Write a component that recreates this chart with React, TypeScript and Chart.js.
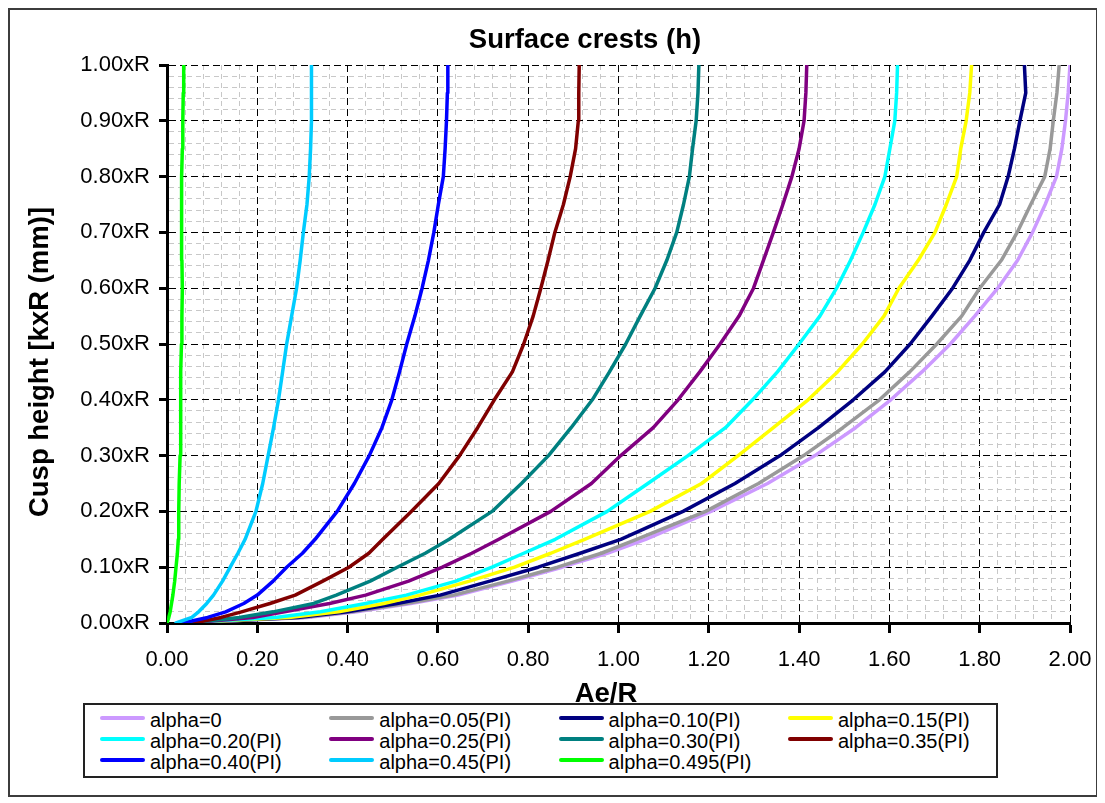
import React, { useEffect, useRef } from 'react';
import { Chart, registerables } from 'chart.js';

Chart.register(...registerables);

const FONT = '"Liberation Sans", Arial, Helvetica, sans-serif';
const CHART_TITLE = 'Surface crests (h)';
const X_TITLE = 'Ae/R';
const Y_TITLE = 'Cusp height [kxR (mm)]';

// Cusp height levels (y, in xR) shared by every series
const HEIGHT_LEVELS = [0, 0.01, 0.02, 0.035, 0.05, 0.075, 0.1, 0.125, 0.15, 0.2, 0.25, 0.3, 0.35, 0.4, 0.45, 0.5, 0.55, 0.6, 0.65, 0.7, 0.75, 0.8, 0.85, 0.9, 0.95, 1.0];

// Ae/R for each series at the levels above
const AE_ALPHA_000 = [0.03, 0.31, 0.42, 0.54, 0.645, 0.765, 0.875, 0.975, 1.06, 1.205, 1.33, 1.435, 1.525, 1.603, 1.672, 1.735, 1.789, 1.840, 1.884, 1.917, 1.945, 1.970, 1.982, 1.990, 1.996, 2.000];
const AE_ALPHA_005 = [0.03, 0.30, 0.41, 0.53, 0.635, 0.755, 0.865, 0.962, 1.04, 1.193, 1.31, 1.41, 1.497, 1.578, 1.645, 1.705, 1.76, 1.80, 1.848, 1.883, 1.913, 1.944, 1.956, 1.963, 1.971, 1.976];
const AE_ALPHA_010 = [0.03, 0.29, 0.40, 0.51, 0.605, 0.715, 0.822, 0.915, 1.005, 1.143, 1.258, 1.358, 1.443, 1.52, 1.59, 1.646, 1.694, 1.74, 1.778, 1.809, 1.844, 1.863, 1.877, 1.889, 1.902, 1.899];
const AE_ALPHA_015 = [0.03, 0.27, 0.38, 0.48, 0.56, 0.67, 0.77, 0.85, 0.925, 1.07, 1.184, 1.265, 1.343, 1.42, 1.485, 1.54, 1.588, 1.621, 1.664, 1.701, 1.726, 1.749, 1.758, 1.770, 1.778, 1.782];
const AE_ALPHA_020 = [0.03, 0.24, 0.34, 0.44, 0.53, 0.64, 0.72, 0.79, 0.86, 0.975, 1.065, 1.154, 1.237, 1.297, 1.352, 1.400, 1.446, 1.483, 1.514, 1.542, 1.568, 1.590, 1.601, 1.612, 1.616, 1.618];
const AE_ALPHA_025 = [0.05, 0.19, 0.26, 0.36, 0.44, 0.535, 0.61, 0.675, 0.735, 0.85, 0.94, 1.005, 1.077, 1.132, 1.18, 1.225, 1.267, 1.299, 1.321, 1.343, 1.364, 1.384, 1.400, 1.411, 1.415, 1.417];
const AE_ALPHA_030 = [0.05, 0.16, 0.235, 0.325, 0.375, 0.45, 0.51, 0.572, 0.625, 0.72, 0.785, 0.845, 0.895, 0.942, 0.98, 1.016, 1.048, 1.081, 1.107, 1.129, 1.144, 1.157, 1.164, 1.172, 1.176, 1.178];
const AE_ALPHA_035 = [0.06, 0.12, 0.165, 0.228, 0.284, 0.345, 0.403, 0.447, 0.478, 0.541, 0.602, 0.648, 0.688, 0.725, 0.765, 0.79, 0.811, 0.828, 0.844, 0.859, 0.878, 0.893, 0.905, 0.911, 0.912, 0.913];
const AE_ALPHA_040 = [0.035, 0.09, 0.13, 0.17, 0.2, 0.235, 0.265, 0.3, 0.328, 0.377, 0.415, 0.448, 0.476, 0.498, 0.515, 0.531, 0.549, 0.565, 0.579, 0.591, 0.601, 0.612, 0.616, 0.619, 0.621, 0.622];
const AE_ALPHA_045 = [0.02, 0.055, 0.07, 0.088, 0.103, 0.123, 0.14, 0.157, 0.173, 0.197, 0.212, 0.224, 0.236, 0.247, 0.256, 0.265, 0.276, 0.287, 0.295, 0.302, 0.310, 0.315, 0.318, 0.320, 0.320, 0.320];
const AE_ALPHA_0495 = [0, 0.004, 0.007, 0.01, 0.013, 0.017, 0.02, 0.023, 0.025, 0.026, 0.027, 0.029, 0.03, 0.03, 0.031, 0.032, 0.033, 0.034, 0.033, 0.032, 0.032, 0.033, 0.034, 0.035, 0.036, 0.037];

const SERIES_LABELS = [
  'alpha=0', 'alpha=0.05(PI)', 'alpha=0.10(PI)', 'alpha=0.15(PI)',
  'alpha=0.20(PI)', 'alpha=0.25(PI)', 'alpha=0.30(PI)', 'alpha=0.35(PI)',
  'alpha=0.40(PI)', 'alpha=0.45(PI)', 'alpha=0.495(PI)',
];
const SERIES_COLORS = [
  '#CC99FF', '#999999', '#000080', '#FFFF00',
  '#00FFFF', '#800080', '#008080', '#800000',
  '#0000FF', '#00CCFF', '#00FF00',
];
const SERIES_VALUES = [
  AE_ALPHA_000, AE_ALPHA_005, AE_ALPHA_010, AE_ALPHA_015,
  AE_ALPHA_020, AE_ALPHA_025, AE_ALPHA_030, AE_ALPHA_035,
  AE_ALPHA_040, AE_ALPHA_045, AE_ALPHA_0495,
];

const X_MIN = 0, X_MAX = 2, X_STEP = 0.04;
const Y_MIN = 0, Y_MAX = 1, Y_STEP = 0.02;
const MAJOR_EVERY = 5;

const isMajor = (ctx: any) => ctx.index % MAJOR_EVERY === 0;

const titlesPlugin = {
  id: 'crestTitles',
  afterDraw(chart: any) {
    const { ctx, chartArea } = chart;
    const cx = (chartArea.left + chartArea.right) / 2;
    const cy = (chartArea.top + chartArea.bottom) / 2;
    ctx.save();
    ctx.font = `bold 27.5px ${FONT}`;
    ctx.fillStyle = '#000';
    ctx.textAlign = 'center';
    ctx.textBaseline = 'middle';
    ctx.fillText(CHART_TITLE, cx - 33.5, chartArea.top - 25);
    ctx.fillText(X_TITLE, cx - 12.5, chartArea.bottom + 71);
    ctx.translate(chartArea.left - 127, cy + 18);
    ctx.rotate(-Math.PI / 2);
    ctx.fillText(Y_TITLE, 0, 0);
    ctx.restore();
  },
};

export default function App() {
  const canvasRef = useRef<HTMLCanvasElement | null>(null);

  useEffect(() => {
    if (!canvasRef.current) return;
    Chart.defaults.font.family = FONT;
    Chart.defaults.color = '#000';
    const datasets = SERIES_VALUES.map((vals, i) => ({
      label: SERIES_LABELS[i],
      data: HEIGHT_LEVELS.map((h, j) => ({ x: vals[j], y: h })),
      borderColor: SERIES_COLORS[i],
      backgroundColor: SERIES_COLORS[i],
      borderWidth: 3.5,
      pointRadius: 0,
      tension: 0,
      fill: false,
      borderJoinStyle: 'round' as const,
      borderCapStyle: 'round' as const,
      order: SERIES_VALUES.length - i,
    }));

    const chart = new Chart(canvasRef.current, {
      type: 'line',
      data: { datasets },
      plugins: [titlesPlugin],
      options: {
        responsive: false,
        animation: false,
        events: [],
        layout: { padding: { left: 0, right: 26, top: 55, bottom: 82 } },
        plugins: {
          legend: { display: false },
          tooltip: { enabled: false },
          title: { display: false },
        },
        scales: {
          x: {
            type: 'linear',
            min: X_MIN,
            max: X_MAX,
            afterFit: (s: any) => {
              s.height = 90;
              s.paddingLeft = 0;
              s.paddingRight = 0;
            },
            ticks: {
              stepSize: X_STEP,
              autoSkip: false,
              maxRotation: 0,
              padding: 14,
              color: '#000',
              font: { size: 22, family: FONT },
              callback: (v: any, i: number) => (i % MAJOR_EVERY === 0 ? Number(v).toFixed(2) : ''),
            },
            grid: {
              color: (c: any) => (isMajor(c) ? '#000' : '#c8c8c8'),
              lineWidth: 1,
              tickLength: 10,
              tickWidth: 3,
              tickColor: (c: any) => (isMajor(c) ? '#000' : 'rgba(0,0,0,0)'),
            },
            border: {
              display: true,
              color: '#000',
              width: 3,
              dash: (c: any) => (isMajor(c) ? [7, 4] : [5, 4]),
            },
            title: { display: false, text: X_TITLE },
          },
          y: {
            type: 'linear',
            min: Y_MIN,
            max: Y_MAX,
            afterFit: (s: any) => {
              s.width = 157;
              s.paddingTop = 0;
              s.paddingBottom = 0;
            },
            ticks: {
              stepSize: Y_STEP,
              autoSkip: false,
              padding: 9,
              color: '#000',
              font: { size: 22, family: FONT },
              callback: (v: any, i: number) => (i % MAJOR_EVERY === 0 ? Number(v).toFixed(2) + 'xR' : ''),
            },
            grid: {
              color: (c: any) => (isMajor(c) ? '#000' : '#c8c8c8'),
              lineWidth: 1,
              tickLength: 8,
              tickWidth: 3,
              tickColor: (c: any) => (isMajor(c) ? '#000' : 'rgba(0,0,0,0)'),
            },
            border: {
              display: true,
              color: '#000',
              width: 3,
              dash: (c: any) => (isMajor(c) ? [7, 4] : [5, 4]),
            },
            title: { display: false, text: Y_TITLE },
          },
        },
      } as any,
    });
    return () => chart.destroy();
  }, []);

  return (
    <div
      style={{
        position: 'relative',
        width: 1090,
        height: 789,
        border: '2px solid #3c3c3c',
        boxSizing: 'border-box',
        background: '#fff',
      }}
    >
      <canvas ref={canvasRef} width={1086} height={785} style={{ display: 'block' }} />
      <div
        style={{
          position: 'absolute',
          left: 73,
          top: 693,
          width: 915,
          height: 75,
          border: '2px solid #222',
          boxSizing: 'border-box',
          fontFamily: FONT,
          fontSize: 20,
          color: '#000',
          background: '#fff',
        }}
      >
        {SERIES_LABELS.map((label, i) => {
          const col = i % 4;
          const row = Math.floor(i / 4);
          return (
            <div
              key={label}
              style={{
                position: 'absolute',
                left: 15 + col * 229.3,
                top: 5 + row * 21,
                height: 21,
                lineHeight: '21px',
                whiteSpace: 'nowrap',
              }}
            >
              <span
                style={{
                  position: 'absolute',
                  left: 0,
                  top: 5.5,
                  width: 45,
                  height: 4,
                  borderRadius: 2,
                  background: SERIES_COLORS[i],
                }}
              />
              <span style={{ marginLeft: 50 }}>{label}</span>
            </div>
          );
        })}
      </div>
    </div>
  );
}
